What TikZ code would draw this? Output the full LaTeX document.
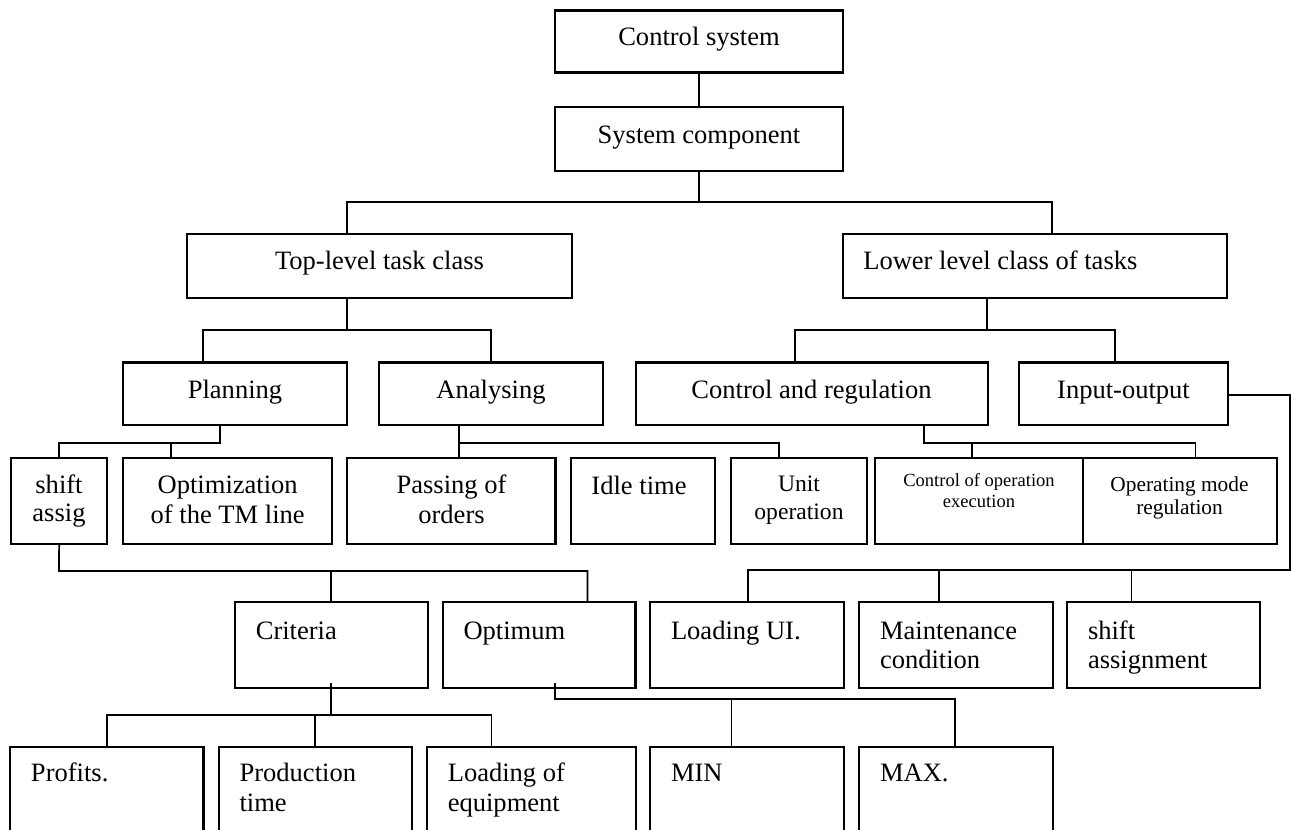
\documentclass[tikz,border=0pt]{standalone}
\usepackage{fontspec}
\setmainfont{Liberation Serif}
\tikzset{
  box/.style={draw, rectangle, line width=1.6pt, inner sep=0pt, outer sep=0pt},
  conn/.style={line width=1.3pt},
  txt/.style={inner sep=0pt, outer sep=0pt, font=\fontsize{19.9}{22}\selectfont},
  txtm/.style={inner sep=0pt, outer sep=0pt, font=\fontsize{17.7}{20}\selectfont},
  txts/.style={inner sep=0pt, outer sep=0pt, font=\fontsize{13.9}{16}\selectfont},
  txtn/.style={inner sep=0pt, outer sep=0pt, font=\fontsize{16}{18}\selectfont}
}
\newcommand\mkbox[5]{\node[box, minimum width={(#4-#2)*0.75pt}, minimum height={(#5-#3)*0.75pt}] (#1) at ({(#2+#4)/2},{(#3+#5)/2}) {};}
\begin{document}
\begin{tikzpicture}[x=0.75pt,y=-0.75pt]
\useasboundingbox (0,0) rectangle (1292,830);
\clip (0,0) rectangle (1292,830);
% boxes
\mkbox{cs}{555}{10.5}{843.3}{72.5}
\mkbox{sc}{555}{107}{843.3}{171}
\mkbox{tl}{187.3}{234.3}{571.7}{298.3}
\mkbox{ll}{843.3}{234.3}{1227.3}{298.3}
\mkbox{pl}{123}{362.5}{347}{425}
\mkbox{an}{379}{362.5}{603}{425}
\mkbox{cr}{635.6}{362.5}{988}{425}
\mkbox{io}{1019}{362.5}{1228}{425}
\mkbox{sa}{11}{458.3}{107.3}{544.3}
\mkbox{op}{123.3}{458.3}{332.3}{544.3}
\mkbox{pa}{347}{458.3}{555.5}{544.3}
\mkbox{it}{571}{458.3}{715}{544.3}
\mkbox{uo}{731}{458.3}{866.7}{544.3}
\mkbox{coe}{875}{458.3}{1082.7}{544.3}
\mkbox{omr}{1082.7}{458.3}{1276.7}{544.3}
\mkbox{crit}{235}{602.3}{428}{688.3}
\mkbox{opt}{443}{602.3}{635.5}{688.3}
\mkbox{lui}{650}{602.3}{844}{688.3}
\mkbox{mc}{859}{602.3}{1053}{688.3}
\mkbox{sh}{1066.6}{602.3}{1260}{688.3}
\mkbox{pr}{10}{747}{203.5}{870}
\mkbox{pt}{219}{747}{412}{870}
\mkbox{le}{427}{747}{636}{870}
\mkbox{mn}{650}{747}{844}{870}
\mkbox{mx}{859}{747}{1053}{870}
% texts
\node[txt, anchor=base] (tcs) at (699,45.7) {Control system};
\node[txt, anchor=base] (tsc) at (699,143.2) {System component};
\node[txt, anchor=base] (ttl) at (379.5,270) {Top-level task class};
\node[txt, anchor=base west] (tll) at (863.3,270) {Lower level class of tasks};
\node[txt, anchor=base] (tpl) at (235,398.3) {Planning};
\node[txt, anchor=base] (tan) at (491,398.3) {Analysing};
\node[txt, anchor=base] (tcr) at (811.5,398.3) {Control and regulation};
\node[txt, anchor=base] (tio) at (1123.5,398.3) {Input-output};
\node[txt, anchor=base] (tsa1) at (59,493.3) {shift};
\node[txt, anchor=base] (tsa2) at (59,521.7) {assig};
\node[txt, anchor=base] (top1) at (227.7,493.3) {Optimization};
\node[txt, anchor=base] (top2) at (227.7,523) {of the TM line};
\node[txt, anchor=base] (tpa1) at (451.5,493.3) {Passing of};
\node[txt, anchor=base] (tpa2) at (451.5,523.5) {orders};
\node[txt, anchor=base] (tit) at (639,494.3) {Idle time};
\node[txtm, anchor=base] (tuo1) at (799,491) {Unit};
\node[txtm, anchor=base] (tuo2) at (799,519) {operation};
\node[txts, anchor=base] (tcoe1) at (979,486.7) {Control of operation};
\node[txts, anchor=base] (tcoe2) at (979,507.7) {execution};
\node[txtn, anchor=base] (tomr1) at (1179.5,491) {Operating mode};
\node[txtn, anchor=base] (tomr2) at (1179.5,514.3) {regulation};
\node[txt, anchor=base west] (tcrit) at (255.8,639) {Criteria};
\node[txt, anchor=base west] (topt) at (463.5,639) {Optimum};
\node[txt, anchor=base west] (tlui) at (671,639) {Loading UI.};
\node[txt, anchor=base west] (tmc1) at (880,639) {Maintenance};
\node[txt, anchor=base west] (tmc2) at (880,668.3) {condition};
\node[txt, anchor=base west] (tsh1) at (1088,639) {shift};
\node[txt, anchor=base west] (tsh2) at (1088,668.3) {assignment};
\node[txt, anchor=base west] (tpr) at (31,781.7) {Profits.};
\node[txt, anchor=base west] (tpt1) at (239.6,781.7) {Production};
\node[txt, anchor=base west] (tpt2) at (239.6,811.7) {time};
\node[txt, anchor=base west] (tle1) at (447.8,781.7) {Loading of};
\node[txt, anchor=base west] (tle2) at (447.8,811.7) {equipment};
\node[txt, anchor=base west] (tmn) at (671,781.7) {MIN};
\node[txt, anchor=base west] (tmx) at (880,781.7) {MAX.};
% junction coordinates
\coordinate (a1) at (347,202);
\coordinate (a2) at (1051.7,202);
\coordinate (b0) at (347,330);
\coordinate (b1) at (203,330);
\coordinate (b2) at (491,330);
\coordinate (c0) at (987,330);
\coordinate (c1) at (795,330);
\coordinate (c2) at (1115,330);
\coordinate (d0) at (220,443);
\coordinate (d1) at (59,443);
\coordinate (d2) at (171,443);
\coordinate (e0) at (459,443);
\coordinate (e1) at (779,443);
\coordinate (f0) at (924,443);
\coordinate (f1) at (972,443);
\coordinate (f2) at (1195.5,443);
\coordinate (g0) at (1290,395);
\coordinate (g1) at (1290,570);
\coordinate (g2) at (748,570);
\coordinate (g3) at (939,570);
\coordinate (g4) at (1131.5,570);
\coordinate (h0) at (59,571);
\coordinate (h1) at (331,571);
\coordinate (h2) at (587.5,571);
\coordinate (i0) at (331,715);
\coordinate (i1) at (107,715);
\coordinate (i2) at (315,715);
\coordinate (i3) at (491.6,715);
\coordinate (k0) at (555,699);
\coordinate (k1) at (955,699);
\coordinate (k2) at (731.5,699);
% connectors
\draw[conn] (cs.south) -- (sc.north);
\draw[conn] (sc.south) -- (sc.south |- a1);
\draw[conn] (tl.north -| a1) -- (a1) -- (a2) -- (ll.north -| a2);
\draw[conn] (tl.south -| b0) -- (b0);
\draw[conn] (pl.north -| b1) -- (b1) -- (b2) -- (an.north -| b2);
\draw[conn] (ll.south -| c0) -- (c0);
\draw[conn] (cr.north -| c1) -- (c1) -- (c2) -- (io.north -| c2);
\draw[conn] (pl.south -| d0) -- (d0) -- (d1) -- (sa.north -| d1);
\draw[conn] (d2) -- (op.north -| d2);
\draw[conn] (an.south -| e0) -- (pa.north -| e0);
\draw[conn] (e0) -- (e1) -- (uo.north -| e1);
\draw[conn] (cr.south -| f0) -- (f0) -- (f2) -- (omr.north -| f2);
\draw[conn] (f1) -- (coe.north -| f1);
\draw[conn] (io.east |- g0) -- (g0) -- (g1) -- (g2) -- (lui.north -| g2);
\draw[conn] (g3) -- (mc.north -| g3);
\draw[conn] (g4) -- (sh.north -| g4);
\draw[conn] (sa.south) -- (h0) -- (h2) -- (opt.north -| h2);
\draw[conn] (h1) -- (crit.north -| h1);
\draw[conn] ([yshift=3.75pt]crit.south -| i0) -- (i0);
\draw[conn] (pr.north -| i1) -- (i1) -- (i3) -- (le.north -| i3);
\draw[conn] (i2) -- (pt.north -| i2);
\draw[conn] ([yshift=3.75pt]opt.south -| k0) -- (k0) -- (k1) -- (mx.north -| k1);
\draw[conn] (k2) -- (mn.north -| k2);
\end{tikzpicture}
\end{document}
